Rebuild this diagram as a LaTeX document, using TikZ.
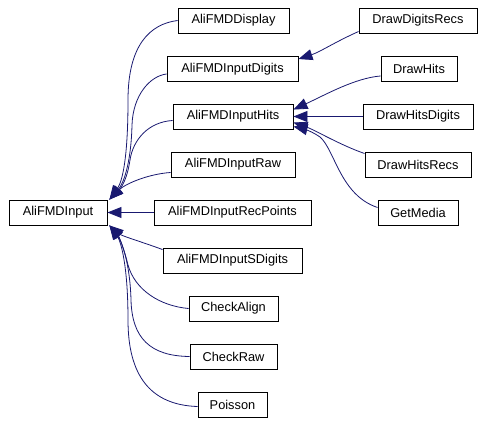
\documentclass[tikz,border=0pt]{standalone}
\usepackage{fontspec}
\setmainfont{Liberation Sans}
\usetikzlibrary{arrows.meta}
\definecolor{edgeblue}{HTML}{191970}
\begin{document}
\begin{tikzpicture}[x=1pt,y=-1pt,
 box/.style={draw=black,line width=0.9pt,minimum height=25pt,inner sep=0pt,font=\fontsize{12.8}{14}\selectfont,text=black},
 edge/.style={draw=edgeblue,line width=0.8pt,-{Triangle[length=14pt,width=11pt]}}]
\useasboundingbox (0,0) rectangle (484,423);
\node[box,minimum width=98pt] (input) at (58,212.5) {AliFMDInput};
\node[box,minimum width=111pt] (disp) at (233.5,20.5) {AliFMDDisplay};
\node[box,minimum width=131pt] (digits) at (232.5,69) {AliFMDInputDigits};
\node[box,minimum width=120pt] (hits) at (233,116.5) {AliFMDInputHits};
\node[box,minimum width=124pt] (raw) at (233,164.5) {AliFMDInputRaw};
\node[box,minimum width=157pt] (recp) at (232.5,212.5) {AliFMDInputRecPoints};
\node[box,minimum width=139pt] (sdig) at (232.5,260.5) {AliFMDInputSDigits};
\node[box,minimum width=89pt] (align) at (233.5,308.5) {CheckAlign};
\node[box,minimum width=87pt] (craw) at (233.5,356.5) {CheckRaw};
\node[box,minimum width=69pt] (pois) at (232.5,404.5) {Poisson};
\node[box,minimum width=118pt] (ddr) at (418,20.5) {DrawDigitsRecs};
\node[box,minimum width=76pt] (dh) at (419,69) {DrawHits};
\node[box,minimum width=110pt] (dhd) at (418,116.5) {DrawHitsDigits};
\node[box,minimum width=106pt] (dhr) at (418,164.5) {DrawHitsRecs};
\node[box,minimum width=80pt] (gm) at (418,212.5) {GetMedia};
% edges into AliFMDInput
\draw[edge] (disp.west) .. controls (150,24) and (128,45) .. (128,100) .. controls (128,160) and (122,182) .. ([xshift=2pt]input.north east);
\draw[edge] ([yshift=-5pt]digits.west) .. controls (150,76) and (133,95) .. (132,125) .. controls (131,165) and (123,184) .. ([xshift=2pt]input.north east);
\draw[edge] ([yshift=-4pt]hits.west) .. controls (148,122) and (133,140) .. (130,160) .. controls (127,180) and (121,188) .. ([xshift=2pt]input.north east);
\draw[edge] ([yshift=-8pt]raw.west) .. controls (148,174) and (125,184) .. ([xshift=2pt]input.north east);
\draw[edge] (recp.west) -- (input.east);
\draw[edge] ([yshift=-2pt]sdig.north west) .. controls (145,243) and (122,236) .. ([xshift=2pt]input.south east);
\draw[edge] (align.west) .. controls (160,306) and (135,290) .. (128,265) .. controls (124,248) and (118,235) .. ([xshift=2pt]input.south east);
\draw[edge] (craw.west) .. controls (150,356) and (132,338) .. (131,300) .. controls (130,262) and (121,240) .. ([xshift=2pt]input.south east);
\draw[edge] ([yshift=-2pt]pois.west) .. controls (150,405) and (128,375) .. (128,320) .. controls (128,262) and (120,240) .. ([xshift=2pt]input.south east);
% edges on the right
\draw[edge] ([yshift=-11pt]ddr.west) .. controls (335,42) and (320,52) .. ([yshift=-3pt]digits.north east);
\draw[edge] ([yshift=-7pt]dh.west) .. controls (355,78) and (325,95) .. ([yshift=-6pt]hits.north east);
\draw[edge] (dhd.west) -- (hits.east);
\draw[edge] ([yshift=11pt]dhr.west) .. controls (340,145) and (315,130) .. ([yshift=-6pt]hits.east);
\draw[edge] ([yshift=5pt]gm.west) .. controls (340,195) and (335,150) .. (320,137) .. controls (310,130) and (300,128) .. ([yshift=-10pt]hits.east);
\end{tikzpicture}
\end{document}
